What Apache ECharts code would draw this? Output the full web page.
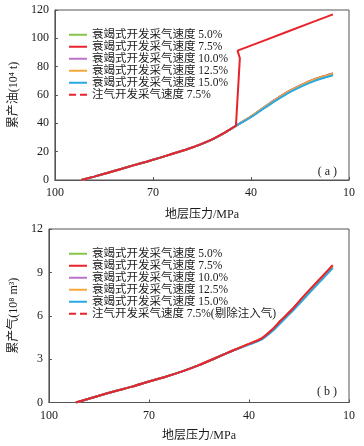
<!DOCTYPE html>
<html lang="zh">
<head>
    <meta charset="UTF-8">
    <title>累产油、累产气与地层压力</title>
    <script src="https://cdn.jsdelivr.net/npm/echarts@6/dist/echarts.min.js"></script>
    <style>
        html, body { margin: 0; padding: 0; background: #fff; }
        #main { width: 364px; height: 446px; }
    </style>
</head>
<body>
<div id="main"></div>
<script>
// ---- data ----
var seriesNames = ['衰竭式开发采气速度 5.0%', '衰竭式开发采气速度 7.5%', '衰竭式开发采气速度 10.0%', '衰竭式开发采气速度 12.5%', '衰竭式开发采气速度 15.0%'];
var injNameA = '注气开发采气速度 7.5%';
var injNameB = '注气开发采气速度 7.5%(剔除注入气)';
var colors = ['#86c44a', '#e8232b', '#b874c9', '#f6a93b', '#29a9e1'];

// (a) cumulative oil, 10^4 t
var pressA = [91.9, 88, 84, 80, 76, 72, 68, 64, 60, 56, 52, 48, 44.6, 40, 36.5, 32.5, 28.5, 24.5, 20.5, 17, 14.9];
var oil5   = [0, 2.4, 5.0, 7.6, 10.3, 12.9, 15.6, 18.5, 21.4, 24.6, 28.5, 33.5, 38.3, 44.8, 50.5, 56.8, 62.5, 67.2, 71.1, 73.7, 75.2];
var oil75  = [0, 2.4, 5.0, 7.6, 10.3, 12.9, 15.6, 18.5, 21.4, 24.6, 28.5, 33.5, 38.3, 44.8, 50.5, 56.8, 62.5, 67.2, 71.1, 73.7, 75.2];
var oil10  = [0, 2.4, 5.0, 7.6, 10.3, 12.9, 15.6, 18.5, 21.4, 24.6, 28.5, 33.5, 38.3, 44.7, 50.4, 56.7, 62.4, 67.1, 71.0, 73.6, 75.1];
var oil125 = [0, 2.4, 5.0, 7.6, 10.3, 12.9, 15.6, 18.5, 21.4, 24.6, 28.5, 33.5, 38.3, 44.7, 50.4, 56.6, 62.3, 67.0, 70.9, 73.5, 75.0];
var oil15  = [0, 2.4, 5.0, 7.6, 10.3, 12.9, 15.6, 18.5, 21.4, 24.6, 28.5, 33.5, 38.2, 44.3, 49.8, 55.9, 61.5, 66.1, 70.0, 72.6, 74.0];
var injPressA = [91.9, 88, 84, 80, 76, 72, 68, 64, 60, 56, 52, 48, 44.6, 43.4, 44.1, 36, 29.5, 22, 14.9];
var injOilA   = [0, 2.4, 5.0, 7.6, 10.3, 12.9, 15.6, 18.5, 21.4, 24.6, 28.5, 33.5, 38.3, 85.9, 91.3, 98.4, 104.1, 110.7, 116.9];

// (b) cumulative gas, 10^8 m3
var pressB = [91.9, 86, 80, 75, 70, 65, 60, 55, 50, 45, 40, 36.4, 33, 30.5, 27, 24.6, 20.6, 17.5, 14.9];
var gas5   = [0, 0.4, 0.8, 1.1, 1.45, 1.78, 2.15, 2.58, 3.08, 3.58, 4.05, 4.4, 5.05, 5.65, 6.45, 7.05, 8.05, 8.8, 9.45];
var gas75  = [0, 0.4, 0.8, 1.1, 1.45, 1.78, 2.15, 2.58, 3.08, 3.58, 4.05, 4.4, 5.05, 5.65, 6.45, 7.05, 8.05, 8.8, 9.45];
var gas10  = [0, 0.4, 0.8, 1.1, 1.45, 1.78, 2.15, 2.58, 3.08, 3.58, 4.05, 4.4, 5.0, 5.6, 6.4, 7.0, 8.0, 8.75, 9.4];
var gas125 = [0, 0.4, 0.8, 1.1, 1.45, 1.78, 2.15, 2.58, 3.08, 3.58, 4.05, 4.4, 5.0, 5.6, 6.4, 7.0, 8.0, 8.75, 9.4];
var gas15  = [0, 0.4, 0.8, 1.1, 1.45, 1.78, 2.15, 2.58, 3.08, 3.56, 4.0, 4.33, 4.93, 5.5, 6.3, 6.9, 7.9, 8.65, 9.3];
var injGasB = [0, 0.4, 0.8, 1.1, 1.45, 1.78, 2.15, 2.58, 3.08, 3.58, 4.05, 4.4, 5.05, 5.65, 6.45, 7.1, 8.1, 8.85, 9.5];

var oilLists = [oil5, oil75, oil10, oil125, oil15];
var gasLists = [gas5, gas75, gas10, gas125, gas15];

function pairs(xs, ys) {
    var out = [];
    for (var i = 0; i < xs.length; i++) {
        out.push([xs[i], ys[i]]);
    }
    return out;
}

var fontFamily = '"Liberation Serif", "Noto Sans CJK SC", serif';
var textColor = '#1a1a1a';

var myChart = echarts.init(document.getElementById('main'));

var series = [];
for (var i = 0; i < seriesNames.length; i++) {
    series.push({
        name: seriesNames[i], type: 'line', xAxisIndex: 0, yAxisIndex: 0,
        data: pairs(pressA, oilLists[i]), symbol: 'none', smooth: 0.2,
        lineStyle: {width: 2, color: colors[i]}, itemStyle: {color: colors[i]}
    });
}
series.push({
    name: injNameA, type: 'line', xAxisIndex: 0, yAxisIndex: 0,
    data: pairs(injPressA, injOilA), symbol: 'none',
    lineStyle: {width: 2, color: '#e8232b'}, itemStyle: {color: '#e8232b'}
});
for (var j = 0; j < seriesNames.length; j++) {
    series.push({
        name: seriesNames[j], type: 'line', xAxisIndex: 1, yAxisIndex: 1,
        data: pairs(pressB, gasLists[j]), symbol: 'none', smooth: 0.2,
        lineStyle: {width: 2, color: colors[j]}, itemStyle: {color: colors[j]}
    });
}
series.push({
    name: injNameB, type: 'line', xAxisIndex: 1, yAxisIndex: 1,
    data: pairs(pressB, injGasB), symbol: 'none', smooth: 0.2,
    lineStyle: {width: 2, color: '#e8232b'}, itemStyle: {color: '#e8232b'}
});

function legendData(extra) {
    var d = seriesNames.slice();
    d.push({name: extra, lineStyle: {type: [7, 4]}});
    return d;
}

function makeLegend(top) {
    return {
        orient: 'vertical', left: 63, top: top,
        itemWidth: 18, itemHeight: 10, itemGap: 0.5, itemStyle: {opacity: 0},
        selectedMode: false,
        textStyle: {fontSize: 11.5, lineHeight: 11, color: textColor, fontFamily: fontFamily}
    };
}

function xAxisCfg(gridIndex, gap) {
    return {
        gridIndex: gridIndex, type: 'value', inverse: true,
        min: 10, max: 100, interval: 30,
        name: '地层压力/MPa', nameLocation: 'middle', nameGap: gap,
        nameTextStyle: {fontSize: 12, color: textColor, fontFamily: fontFamily},
        axisLine: {lineStyle: {color: '#555', width: 1}},
        axisTick: {inside: true, length: 3, lineStyle: {color: '#555'}},
        axisLabel: {fontSize: 12, color: textColor, fontFamily: fontFamily, margin: 7},
        splitLine: {show: false}
    };
}

function yAxisCfg(gridIndex, max, interval, name) {
    return {
        gridIndex: gridIndex, type: 'value', min: 0, max: max, interval: interval,
        name: name, nameLocation: 'middle', nameGap: 28,
        nameTextStyle: {fontSize: 12, color: textColor, fontFamily: fontFamily},
        axisLine: {show: true, lineStyle: {color: '#555', width: 1}},
        axisTick: {inside: true, length: 3, lineStyle: {color: '#555'}},
        axisLabel: {fontSize: 12, color: textColor, fontFamily: fontFamily, margin: 6},
        splitLine: {show: false}
    };
}

var legA = makeLegend(24);
legA.data = legendData(injNameA);
var legB = makeLegend(243);
legB.data = legendData(injNameB);

var option = {
    animation: false,
    backgroundColor: '#fff',
    title: [
        {text: '( a )', right: 22, top: 161, textStyle: {fontSize: 12, fontWeight: 'normal', color: textColor, fontFamily: fontFamily}},
        {text: '( b )', right: 22, top: 381, textStyle: {fontSize: 12, fontWeight: 'normal', color: textColor, fontFamily: fontFamily}}
    ],
    legend: [legA, legB],
    grid: [
        {left: 46, top: 10, width: 303, height: 170, show: true, borderColor: '#555', borderWidth: 1, backgroundColor: 'transparent'},
        {left: 46, top: 229, width: 303, height: 173.5, show: true, borderColor: '#555', borderWidth: 1, backgroundColor: 'transparent'}
    ],
    xAxis: [xAxisCfg(0, 29), xAxisCfg(1, 27)],
    yAxis: [
        yAxisCfg(0, 120, 20, '累产油(10⁴ t)'),
        yAxisCfg(1, 12, 3, '累产气(10⁸ m³)')
    ],
    series: series
};

myChart.setOption(option);
</script>
</body>
</html>
